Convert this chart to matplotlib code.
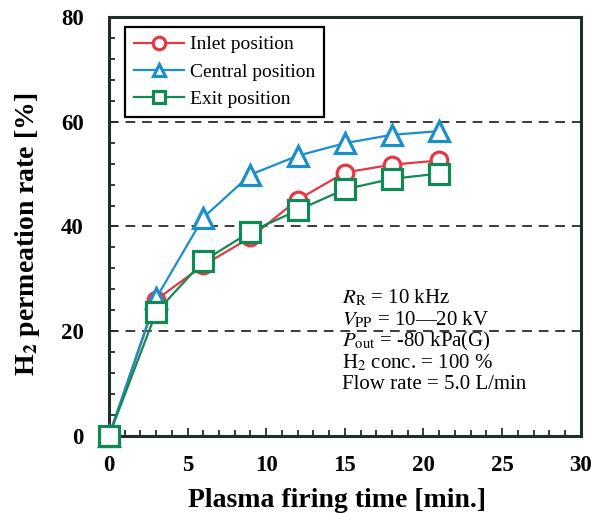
import numpy as np
import matplotlib
matplotlib.use("Agg")
import matplotlib.pyplot as plt
from matplotlib.ticker import MultipleLocator

plt.rcParams['font.family'] = ['Liberation Serif', 'DejaVu Serif']
plt.rcParams['mathtext.fontset'] = 'stix'

# firing time [min.]
time = [0, 3, 6, 9, 12, 15, 18, 21]
# H2 permeation rate [%]
inlet = [0, 26.0, 32.6, 37.9, 45.1, 50.3, 51.8, 52.6]
central = [0, 26.3, 41.7, 49.9, 53.5, 55.9, 57.5, 58.2]
exit_pos = [0, 23.6, 33.4, 39.0, 43.1, 47.1, 49.1, 50.1]

labels = ['Inlet position', 'Central position', 'Exit position']
colors = ['#e23a45', '#1b8fc7', '#108a52']
markers = ['o', '^', 's']
msizes = [12, 15, 15]
spine_col = '#1e2e28'

fig = plt.figure(figsize=(5.92, 5.13), dpi=100)
ax = fig.add_axes([0.184, 0.150, 0.797, 0.817])

for yy in [20, 40, 60]:
    ax.axhline(yy, color='#3a3a3a', lw=1.4, dashes=(5, 3.5), zorder=1)

for ys, lab, c, m, ms in zip([inlet, central, exit_pos], labels, colors, markers, msizes):
    ax.plot(time, ys, color=c, lw=1.6, marker=m, ms=ms, mfc='white',
            mec=c, mew=2.3, label=lab, zorder=3, clip_on=False)

ax.set_xlim(0, 30)
ax.set_ylim(0, 80)
ax.xaxis.set_major_locator(MultipleLocator(5))
ax.xaxis.set_minor_locator(MultipleLocator(1))
ax.yaxis.set_major_locator(MultipleLocator(20))
ax.yaxis.set_minor_locator(MultipleLocator(4))
ax.tick_params(which='both', direction='in', top=False, right=False,
               color=spine_col, width=1.3, labelsize=16.5)
ax.tick_params(axis='x', pad=14)
ax.tick_params(axis='y', pad=18)
ax.tick_params(which='major', length=6)
ax.tick_params(which='minor', length=4)
for lbl in ax.get_xticklabels() + ax.get_yticklabels():
    lbl.set_fontweight('bold')
for sp in ax.spines.values():
    sp.set_color(spine_col)
    sp.set_linewidth(2.2)

ax.set_xlabel('Plasma firing time [min.]', fontsize=20, fontweight='bold')
ax.set_ylabel(r'H$_\mathbf{2}$ permeation rate [%]', fontsize=20, fontweight='bold')
ax.xaxis.set_label_coords(0.483, -0.124)
ax.yaxis.set_label_coords(-0.142, 0.48)

leg = ax.legend(loc='upper left', bbox_to_anchor=(0.034, 0.976), borderaxespad=0,
                fontsize=14, handlelength=2.6, handletextpad=0.3, borderpad=0.45,
                labelspacing=0.5, fancybox=False, framealpha=1)
leg.get_frame().set_edgecolor('black')
leg.get_frame().set_linewidth(1.6)
for h in leg.legend_handles:
    h.set_markersize(9)

notes = [r'$R_{\mathrm{R}}$ = 10 kHz',
         r'$V_{\mathrm{PP}}$ = 10—20 kV',
         r'$P_{\mathrm{out}}$ = -80 kPa(G)',
         r'H$_2$ conc. = 100 %',
         'Flow rate = 5.0 L/min']
for i, t in enumerate(notes):
    ax.text(0.494, 0.33 - i * 0.052, t, transform=ax.transAxes,
            fontsize=15, va='center', ha='left', zorder=4)

fig.savefig('out.png', dpi=100)
